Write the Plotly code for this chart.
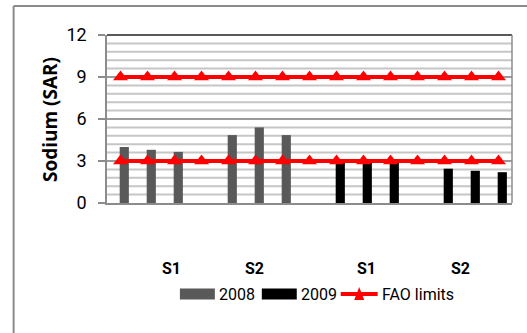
import plotly.graph_objects as go

# Sodium adsorption ratio per site sample, two seasons, against FAO limits
sar_2008 = [4.0, 3.8, 3.65, None, 4.85, 5.4, 4.85, None, None, None, None, None, None, None, None]
sar_2009 = [None, None, None, None, None, None, None, None, 2.9, 2.9, 2.9, None, 2.45, 2.3, 2.2]
fao_upper = [9] * 15
fao_lower = [3] * 15
positions = list(range(15))
site_labels = ["S1", "S2", "S1", "S2"]
site_label_pos = [1.9, 4.95, 9.1, 12.6]
fine_grid = [round(0.6 * k, 1) for k in range(1, 20) if k % 5]

W, H = 527, 333
L, R, T, B = 107, 14.5, 35, 130
pw, ph = W - L - R, H - T - B


def px(x):
    return (x - L) / pw


def py(y):
    return (H - B - y) / ph


FONT = "Roboto, Liberation Sans, sans-serif"
GREY = "#595959"
RED = "#ff0000"

fig = go.Figure()
fig.add_trace(go.Bar(x=[p + 0.14 for p in positions], y=sar_2008, width=0.34,
                     marker=dict(color=GREY, line_width=0), name="2008", showlegend=False))
fig.add_trace(go.Bar(x=[p + 0.14 for p in positions], y=sar_2009, width=0.34,
                     marker=dict(color="#000000", line_width=0), name="2009", showlegend=False))
for vals in (fao_upper, fao_lower):
    fig.add_trace(go.Scatter(x=positions, y=vals, mode="lines+markers",
                             line=dict(color=RED, width=4),
                             marker=dict(symbol="triangle-up", size=13, color=RED),
                             name="FAO limits", showlegend=False))

# fine horizontal grid between the major ticks
shapes = [dict(type="line", xref="paper", yref="y", x0=0, x1=1, y0=g, y1=g, layer="below",
               line=dict(color="#c6c6c6", width=2)) for g in fine_grid]

shapes += [
    # plot frame: black top edge, grey right edge
    dict(type="line", xref="paper", yref="paper", x0=0, x1=1, y0=1, y1=1,
         line=dict(color="#222222", width=1.5)),
    dict(type="line", xref="paper", yref="paper", x0=1, x1=1, y0=0, y1=1,
         line=dict(color="#8c8c8c", width=1.5)),
    # outer chart border (left and top)
    dict(type="line", xref="paper", yref="paper", x0=px(13.5), x1=px(13.5), y0=py(6), y1=py(345),
         line=dict(color="#8a8a8a", width=2)),
    dict(type="line", xref="paper", yref="paper", x0=px(13.5), x1=px(540), y0=py(6), y1=py(6),
         line=dict(color="#8a8a8a", width=2)),
    # legend swatches
    dict(type="rect", xref="paper", yref="paper", x0=px(180), x1=px(215), y0=py(299.5), y1=py(288.5),
         fillcolor=GREY, line_width=0),
    dict(type="rect", xref="paper", yref="paper", x0=px(262), x1=px(297), y0=py(299.5), y1=py(288.5),
         fillcolor="#000000", line_width=0),
    dict(type="line", xref="paper", yref="paper", x0=px(341), x1=px(378), y0=py(294), y1=py(294),
         line=dict(color=RED, width=4)),
    dict(type="path", xref="paper", yref="paper",
         path=f"M {px(354.5)} {py(300)} L {px(364.5)} {py(300)} L {px(359.5)} {py(287)} Z",
         fillcolor=RED, line_width=0),
]

annotations = [
    dict(text="<b>Sodium (SAR)</b>", xref="paper", yref="paper", x=px(49.5), y=py(119.5), textangle=-90,
         showarrow=False, font=dict(family="Open Sans, Liberation Sans, sans-serif", size=19, color="#000"),
         xanchor="center", yanchor="middle"),
    dict(text="2008", xref="paper", yref="paper", x=px(217), y=py(294), xanchor="left", yanchor="middle",
         showarrow=False, font=dict(family=FONT, size=16, color="#000")),
    dict(text="2009", xref="paper", yref="paper", x=px(299), y=py(294), xanchor="left", yanchor="middle",
         showarrow=False, font=dict(family=FONT, size=16, color="#000")),
    dict(text="FAO limits", xref="paper", yref="paper", x=px(380), y=py(294), xanchor="left", yanchor="middle",
         showarrow=False, font=dict(family=FONT, size=16, color="#000")),
]
for lbl, pos in zip(site_labels, site_label_pos):
    annotations.append(dict(text=f"<b>{lbl}</b>", xref="x", yref="paper", x=pos, y=py(268),
                            xanchor="center", yanchor="middle", showarrow=False,
                            font=dict(family=FONT, size=16, color="#000")))

fig.update_layout(
    width=W, height=H,
    margin=dict(l=L, r=R, t=T, b=B, pad=0),
    paper_bgcolor="white", plot_bgcolor="white",
    barmode="overlay",
    showlegend=False,
    shapes=shapes,
    annotations=annotations,
    xaxis=dict(range=[-0.5, 14.5], showticklabels=False, showgrid=False, zeroline=False,
               showline=True, linecolor="#8c8c8c", linewidth=1.5, ticks="", fixedrange=True),
    yaxis=dict(range=[0, 12], tickmode="linear", tick0=0, dtick=3, ticks="outside", ticklen=7,
               tickcolor="#8c8c8c", tickwidth=1.5, showline=True, linecolor="#8c8c8c", linewidth=1.5,
               gridcolor="#9a9a9a", gridwidth=2, zeroline=False,
               tickfont=dict(family=FONT, size=18, color="#000"), ticklabelstandoff=8),
)

fig.write_html("out.html")
